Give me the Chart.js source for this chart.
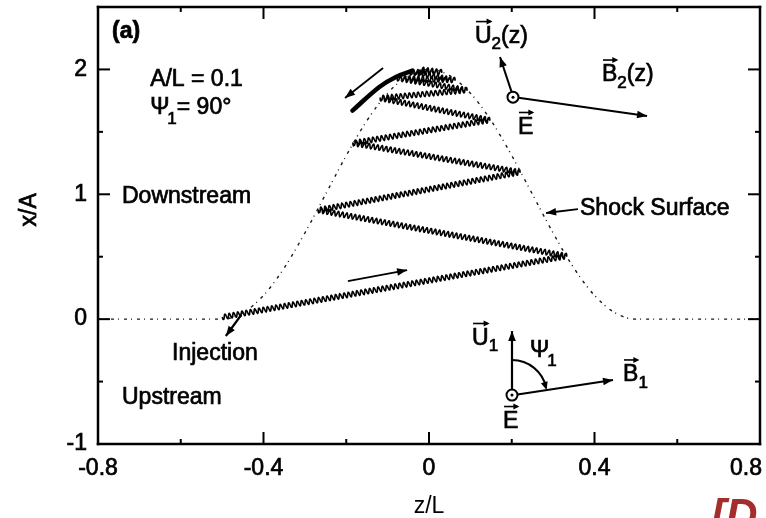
<!DOCTYPE html>
<html lang="en">
<head>
<meta charset="UTF-8">
<title>Particle drift along a rippled shock</title>
<script src="https://cdn.jsdelivr.net/npm/chart.js"></script>
<style>
  body { margin: 0; background: #fff; }
</style>
</head>
<body>
<canvas id="shockChart" width="766" height="518"></canvas>
<script>
// shock surface x/A as a function of z/L
const shockZ = [-0.8, -0.5, -0.45, -0.4, -0.35, -0.3, -0.25, -0.2, -0.15, -0.1, -0.05, 0,
                0.05, 0.1, 0.15, 0.2, 0.25, 0.3, 0.35, 0.4, 0.45, 0.5, 0.8];
const shockX = [0, 0, 0.05, 0.19, 0.41, 0.69, 1.0, 1.31, 1.59, 1.81, 1.95, 2.0,
                1.95, 1.81, 1.59, 1.31, 1.0, 0.69, 0.41, 0.19, 0.05, 0, 0];

// guiding-centre bounce points of the gyrating particle
const orbitZ = [-0.50, 0.333, -0.268, 0.22, -0.184, 0.147, -0.118, 0.092, -0.077, 0.063, -0.046, 0.031, -0.022];
const orbitX = [0.016, 0.505, 0.873, 1.177, 1.41, 1.594, 1.77, 1.834, 1.93, 1.914, 1.978, 1.978, 2.0];

// final drift down the left flank
const driftZ = [-0.04, -0.08, -0.12, -0.185];
const driftX = [1.99, 1.94, 1.86, 1.67];

// axis ticks
const xTicks = [-0.8, -0.4, 0, 0.4, 0.8];
const xMinor = [-0.6, -0.2, 0.2, 0.6];
const yTicks = [-1, 0, 1, 2];
const yMinor = [-0.5, 0.5, 1.5];

const FONT = "'Liberation Sans', Arial, Helvetica, sans-serif";

const pairs = (zs, xs) => zs.map((z, i) => ({ x: z, y: xs[i] }));

// box frame with inward ticks on all four sides, plus the z/L tick labels
const frameTicks = {
  id: 'frameTicks',
  afterDraw(chart) {
    const { ctx, chartArea: a, scales: { x, y } } = chart;
    const lw = 2.5;
    ctx.save();
    ctx.fillStyle = '#000';
    ctx.fillRect(a.left - lw / 2, a.top - lw / 2, a.right - a.left + lw, lw);
    ctx.fillRect(a.left - lw / 2, a.bottom - lw / 2, a.right - a.left + lw, lw);
    ctx.fillRect(a.left - lw / 2, a.top - lw / 2, lw, a.bottom - a.top + lw);
    ctx.fillRect(a.right - lw / 2, a.top - lw / 2, lw, a.bottom - a.top + lw);

    const tw = 2;
    const tick = (vals, len) => vals.forEach(v => {
      const px = x.getPixelForValue(v);
      ctx.fillRect(px - tw / 2, a.bottom - len, tw, len);
      ctx.fillRect(px - tw / 2, a.top, tw, len);
    });
    const ytick = (vals, len) => vals.forEach(v => {
      const py = y.getPixelForValue(v);
      ctx.fillRect(a.left, py - tw / 2, len, tw);
      ctx.fillRect(a.right - len, py - tw / 2, len, tw);
    });
    tick(xTicks, 12); tick(xMinor, 5);
    ytick(yTicks, 12); ytick(yMinor, 5);

    // tick labels under the axis, kept inside the canvas
    ctx.font = `23px ${FONT}`;
    ctx.strokeStyle = '#000';
    ctx.lineWidth = 0.7;
    ctx.textBaseline = 'middle';
    ctx.textAlign = 'left';
    xTicks.forEach(v => {
      const s = String(v);
      const w = ctx.measureText(s).width;
      let left = x.getPixelForValue(v) - w / 2;
      left = Math.min(left, chart.width - 4 - w);
      ctx.strokeText(s, left, a.bottom + 25);
      ctx.fillText(s, left, a.bottom + 25);
    });
    ctx.restore();
  }
};

// draws a dataset as a gyrating (wavy) path between its points
const wavyLines = {
  id: 'wavyLines',
  afterDatasetDraw(chart, args) {
    const ds = chart.data.datasets[args.index];
    if (!ds.wavy) return;
    const pts = args.meta.data;
    const { ctx, chartArea: a } = chart;
    ctx.save();
    ctx.setLineDash([]);
    ctx.beginPath();
    ctx.rect(a.left, a.top, a.right - a.left, a.bottom - a.top);
    ctx.clip();
    ctx.beginPath();
    ctx.strokeStyle = '#000';
    ctx.lineWidth = ds.wavy.width;
    ctx.lineJoin = 'round';
    for (let i = 1; i < pts.length; i++) {
      const p0 = pts[i - 1], p1 = pts[i];
      const dx = p1.x - p0.x, dy = p1.y - p0.y;
      const len = Math.hypot(dx, dy);
      const cycles = Math.max(1, Math.round(len / ds.wavy.wavelength));
      const nx = -dy / len, ny = dx / len;
      const steps = Math.ceil(len / 0.5);
      for (let s = 0; s <= steps; s++) {
        const t = s / steps;
        const off = ds.wavy.amp * Math.sin(2 * Math.PI * cycles * t);
        const px = p0.x + dx * t + nx * off;
        const py = p0.y + dy * t + ny * off;
        if (i === 1 && s === 0) ctx.moveTo(px, py); else ctx.lineTo(px, py);
      }
    }
    ctx.stroke();
    ctx.restore();
  }
};

// text labels (anchored in data units: left edge, vertical centre)
const plainLabels = [
  { text: '(a)', z: -0.766, x: 2.30, bold: true },
  { text: 'A/L = 0.1', z: -0.674, x: 1.916 },
  { text: 'Downstream', z: -0.742, x: 0.978 },
  { text: 'Injection', z: -0.621, x: -0.279 },
  { text: 'Upstream', z: -0.742, x: -0.632 },
  { text: 'Shock Surface', z: 0.365, x: 0.882 }
];

// straight arrows: tail -> head
const arrows = [
  { from: [-0.196, 0.305], to: [-0.053, 0.393], w: 1.8 },
  { from: [-0.111, 2.011], to: [-0.203, 1.771], w: 1.8 },
  { from: [-0.454, 0.033], to: [-0.491, -0.135], w: 2.2 },
  { from: [0.360, 0.882], to: [0.283, 0.850], w: 1.8 }
];

// field vector diagrams
const upperOrigin = [0.203, 1.778];
const lowerOrigin = [0.2006, -0.608];

const notes = {
  id: 'notes',
  afterDraw(chart) {
    const { ctx, scales: { x, y } } = chart;
    const P = (zv, xv) => [x.getPixelForValue(zv), y.getPixelForValue(xv)];
    ctx.save();
    ctx.setLineDash([]);
    ctx.fillStyle = '#000';
    ctx.strokeStyle = '#000';
    ctx.textBaseline = 'middle';
    ctx.textAlign = 'left';

    const font = (size, bold) => `${bold ? 'bold ' : ''}${size}px ${FONT}`;
    // slightly heavy text, like the scanned lettering
    const text = (s, px, py) => {
      ctx.lineWidth = 0.7;
      ctx.strokeText(s, px, py);
      ctx.fillText(s, px, py);
    };

    const head = (x1, y1, x2, y2, L = 10, W = 3.8) => {
      const ang = Math.atan2(y2 - y1, x2 - x1);
      ctx.beginPath();
      ctx.moveTo(x2, y2);
      ctx.lineTo(x2 - L * Math.cos(ang) + W * Math.sin(ang), y2 - L * Math.sin(ang) - W * Math.cos(ang));
      ctx.lineTo(x2 - L * Math.cos(ang) - W * Math.sin(ang), y2 - L * Math.sin(ang) + W * Math.cos(ang));
      ctx.closePath();
      ctx.fill();
    };
    const arrow = (x1, y1, x2, y2, w) => {
      ctx.lineWidth = w;
      ctx.beginPath();
      ctx.moveTo(x1, y1);
      ctx.lineTo(x2, y2);
      ctx.stroke();
      head(x1, y1, x2, y2);
    };

    plainLabels.forEach(l => {
      const [px, py] = P(l.z, l.x);
      ctx.font = font(23, l.bold);
      text(l.text, px, py);
    });

    // Psi_1 = 90 deg
    const psiLine = (px, py, tail) => {
      ctx.font = font(23);
      text('\u03A8', px, py);
      let w = ctx.measureText('\u03A8').width;
      ctx.font = font(17);
      text('1', px + w - 2, py + 11);
      w += ctx.measureText('1').width - 2;
      if (tail) {
        ctx.font = font(23);
        text(tail, px + w, py);
      }
    };
    let [qx, qy] = P(-0.674, 1.69);
    psiLine(qx, qy, '= 90\u00B0');

    // vector symbol with over-arrow, optional subscript and suffix
    const vecLabel = (sym, sub, suffix, zv, xv) => {
      const [px, py] = P(zv, xv);
      ctx.font = font(23);
      const w = ctx.measureText(sym).width;
      text(sym, px, py);
      ctx.lineWidth = 1.6;
      ctx.beginPath();
      ctx.moveTo(px + 1, py - 15);
      ctx.lineTo(px + w - 1, py - 15);
      ctx.stroke();
      head(px, py - 15, px + w + 1, py - 15, 6, 3);
      let cx = px + w;
      if (sub) {
        ctx.font = font(17);
        text(sub, cx, py + 8);
        cx += ctx.measureText(sub).width;
      }
      if (suffix) {
        ctx.font = font(23);
        text(suffix, cx, py);
      }
    };
    vecLabel('U', '2', '(z)', 0.111, 2.263);
    vecLabel('B', '2', '(z)', 0.418, 1.955);
    vecLabel('E', '', '', 0.215, 1.535);
    vecLabel('U', '1', '', 0.104, -0.155);
    vecLabel('B', '1', '', 0.469, -0.447);
    vecLabel('E', '', '', 0.179, -0.82);
    [qx, qy] = P(0.244, -0.251);
    psiLine(qx, qy, '');

    arrows.forEach(a => {
      const [x1, y1] = P(...a.from);
      const [x2, y2] = P(...a.to);
      arrow(x1, y1, x2, y2, a.w);
    });

    // E out of the page: circle with a dot
    const outOfPage = (cx, cy) => {
      ctx.lineWidth = 2;
      ctx.beginPath();
      ctx.arc(cx, cy, 5.5, 0, 2 * Math.PI);
      ctx.stroke();
      ctx.beginPath();
      ctx.arc(cx, cy, 1.5, 0, 2 * Math.PI);
      ctx.fill();
    };

    // downstream triad
    const [ux, uy] = P(...upperOrigin);
    outOfPage(ux, uy);
    let [tx, ty] = P(0.1716, 2.10);
    arrow(ux - 1.5, uy - 5.5, tx, ty, 2);
    [tx, ty] = P(0.527, 1.627);
    arrow(ux + 5.5, uy + 0.5, tx, ty, 2);

    // upstream triad
    const [lx, ly] = P(...lowerOrigin);
    outOfPage(lx, ly);
    [tx, ty] = P(0.2006, -0.0955);
    arrow(lx, ly - 5.5, tx, ty, 2.2);
    [tx, ty] = P(0.4447, -0.488);
    arrow(lx + 5.5, ly - 0.5, tx, ty, 2);
    // angle Psi_1 between U1 and B1
    const bAng = Math.atan2(ty - ly, tx - lx);
    const r = 35;
    ctx.lineWidth = 2;
    ctx.beginPath();
    ctx.arc(lx, ly, r, -Math.PI / 2, bAng - 0.06);
    ctx.stroke();
    const ex = lx + r * Math.cos(bAng), ey = ly + r * Math.sin(bAng);
    const e0x = lx + r * Math.cos(bAng - 0.3), e0y = ly + r * Math.sin(bAng - 0.3);
    head(e0x, e0y, ex, ey, 8, 3.5);

    // y axis title
    const ya = P(-0.8, 0.875);
    ctx.save();
    ctx.translate(30, ya[1]);
    ctx.rotate(-Math.PI / 2);
    ctx.textAlign = 'center';
    ctx.font = font(23);
    text('x/A', 0, 0);
    ctx.restore();

    // citation tag in the corner
    ctx.fillStyle = '#a32e2c';
    ctx.font = `italic bold 44px ${FONT}`;
    ctx.textBaseline = 'alphabetic';
    ctx.fillText('[D', 711, 530);
    ctx.restore();
  }
};

new Chart(document.getElementById('shockChart'), {
  type: 'scatter',
  data: {
    datasets: [
      {
        label: 'Shock Surface',
        data: pairs(shockZ, shockX),
        showLine: true,
        borderColor: '#1a1a1a',
        borderWidth: 1.4,
        borderDash: [3, 4, 1, 5],
        pointRadius: 0,
        cubicInterpolationMode: 'monotone'
      },
      {
        label: 'Orbit',
        data: pairs(orbitZ, orbitX),
        showLine: true,
        borderColor: 'rgba(0,0,0,0)',
        borderWidth: 0,
        pointRadius: 0,
        wavy: { amp: 2.6, wavelength: 4.3, width: 1.6 }
      },
      {
        label: 'Drift',
        data: pairs(driftZ, driftX),
        showLine: true,
        borderColor: '#000',
        borderWidth: 4.5,
        borderCapStyle: 'round',
        pointRadius: 0,
        tension: 0.4
      }
    ]
  },
  options: {
    responsive: false,
    devicePixelRatio: 1,
    animation: false,
    layout: { padding: { left: 0, top: 7, right: 6, bottom: 0 } },
    plugins: { legend: { display: false }, tooltip: { enabled: false } },
    scales: {
      x: {
        type: 'linear',
        min: -0.8,
        max: 0.8,
        afterBuildTicks: s => { s.ticks = xTicks.map(v => ({ value: v })); },
        afterFit: s => { s.height = 74; s.paddingLeft = 0; s.paddingRight = 0; },
        grid: { display: false, drawTicks: false },
        border: { display: false },
        ticks: { display: false },
        title: {
          display: true,
          text: 'z/L',
          color: '#000',
          font: { family: FONT, size: 23, lineHeight: 1 },
          padding: { top: 0, bottom: 0 }
        }
      },
      y: {
        type: 'linear',
        min: -1,
        max: 2.5,
        afterBuildTicks: s => { s.ticks = yTicks.map(v => ({ value: v })); },
        afterFit: s => { s.width = 98; s.paddingTop = 0; s.paddingBottom = 0; },
        grid: { display: false, drawTicks: false },
        border: { display: false },
        ticks: {
          color: '#000',
          padding: 11,
          font: { family: FONT, size: 23 },
          textStrokeColor: '#000',
          textStrokeWidth: 0.7,
          callback: v => String(v)
        }
      }
    }
  },
  plugins: [wavyLines, frameTicks, notes]
});
</script>
</body>
</html>
